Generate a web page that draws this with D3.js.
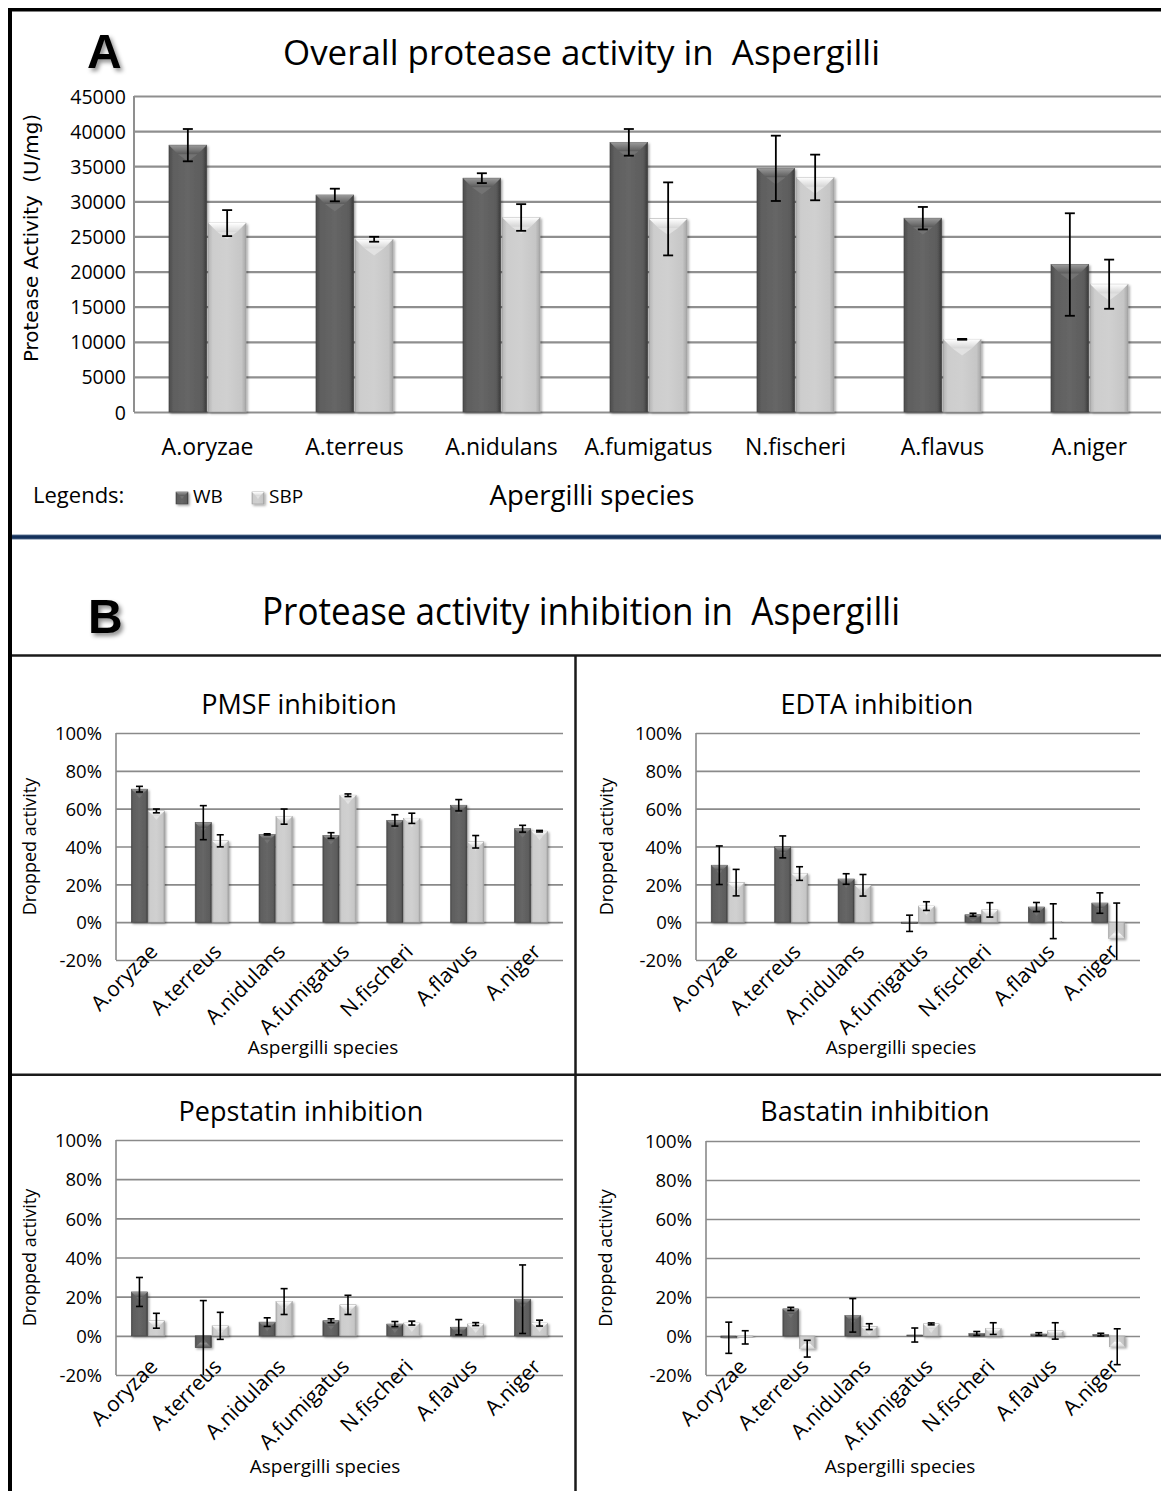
<!DOCTYPE html>
<html><head><meta charset="utf-8">
<script src="https://cdn.jsdelivr.net/npm/d3@7"></script>
<style>
body{margin:0;background:#fff}
svg{display:block}
text{font-family:"Open Sans",sans-serif;fill:#000}
</style>
</head><body>
<svg id="c" width="1161" height="1491"></svg>
<script>
// ---------------- DATA ----------------
const species = ["A.oryzae","A.terreus","A.nidulans","A.fumigatus","N.fischeri","A.flavus","A.niger"];
const seriesNames = ["WB","SBP"];

// Panel A: overall protease activity (U/mg)
const overallWB     = [38000, 30900, 33300, 38400, 34700, 27600, 21000];
const overallWBErr  = [2300, 900, 700, 1900, 4650, 1600, 7300];
const overallSBP    = [26900, 24600, 27700, 27500, 33400, 10350, 18200];
const overallSBPErr = [1850, 350, 1900, 5200, 3250, 60, 3500];
const yTicksA = [0,5000,10000,15000,20000,25000,30000,35000,40000,45000];

// Panel B: dropped activity (%)
const pmsfWB     = [70.3, 52.6, 46.4, 45.8, 53.8, 61.8, 49.4];
const pmsfWBErr  = [1.5, 9.0, 0.3, 1.5, 3.0, 3.0, 1.8];
const pmsfSBP    = [58.8, 43.0, 55.8, 67.1, 54.9, 42.5, 48.1];
const pmsfSBPErr = [1.0, 3.2, 4.0, 0.7, 2.7, 3.3, 0.4];

const edtaWB     = [30.1, 39.8, 22.8, -0.6, 3.9, 8.0, 10.1];
const edtaWBErr  = [10.2, 5.8, 2.8, 4.3, 0.8, 2.4, 5.4];
const edtaSBP    = [20.9, 25.7, 19.5, 8.5, 6.5, 0.5, -8.5];
const edtaSBPErr = [7.0, 3.6, 5.7, 2.3, 3.8, 9.2, 18.6];

const pepWB      = [22.4, -6.0, 7.0, 7.7, 6.0, 4.4, 18.7];
const pepWBErr   = [7.4, 24.0, 2.2, 1.0, 1.3, 3.9, 17.5];
const pepSBP     = [7.7, 5.1, 17.5, 15.8, 6.5, 6.0, 6.5];
const pepSBPErr  = [3.8, 6.9, 6.6, 4.9, 1.0, 0.75, 1.5];

const basWB      = [-0.9, 13.9, 10.6, 0.5, 1.3, 1.0, 0.7];
const basWBErr   = [8.0, 0.8, 8.6, 3.6, 1.0, 0.7, 0.7];
const basSBP     = [-0.7, -6.5, 4.8, 6.2, 3.8, 2.6, -5.5];
const basSBPErr  = [3.4, 4.3, 1.5, 0.5, 3.0, 4.2, 9.2];
const yTicksB = [-20, 0, 20, 40, 60, 80, 100];

const panelBTitles = ["PMSF inhibition","EDTA inhibition","Pepstatin inhibition","Bastatin inhibition"];
const panelBSeries = [
  [pmsfWB, pmsfWBErr, pmsfSBP, pmsfSBPErr],
  [edtaWB, edtaWBErr, edtaSBP, edtaSBPErr],
  [pepWB, pepWBErr, pepSBP, pepSBPErr],
  [basWB, basWBErr, basSBP, basSBPErr]
];

// ---------------- LAYOUT ----------------
const layoutB = [
  {x0:116, x1:563,  yTop:733,  yBot:960,  tx:299, ty:714,  lx:30,  xl:1054, xlx:323},
  {x0:696, x1:1140, yTop:733,  yBot:960,  tx:877, ty:714,  lx:607, xl:1054, xlx:901},
  {x0:116, x1:563,  yTop:1140, yBot:1375, tx:301, ty:1121, lx:30,  xl:1473, xlx:325},
  {x0:706, x1:1140, yTop:1141, yBot:1375, tx:875, ty:1121, lx:606, xl:1473, xlx:900}
];

const svg = d3.select("#c");
const defs = svg.append("defs");

function grad(id, stops, vertical){
  const g = defs.append("linearGradient").attr("id", id)
    .attr("x1",0).attr("y1",0).attr("x2", vertical?0:1).attr("y2", vertical?1:0);
  stops.forEach(s => g.append("stop").attr("offset", s[0]).attr("stop-color", s[1]));
}
grad("darkBody", [[0,"#4c4c4c"],[0.12,"#5f5f5f"],[0.5,"#666"],[0.88,"#5c5c5c"],[1,"#3a3a3a"]]);
grad("lightBody", [[0,"#b4b4b4"],[0.12,"#cdcdcd"],[0.5,"#d0d0d0"],[0.88,"#c6c6c6"],[1,"#a6a6a6"]]);
grad("darkBevel", [[0,"#9a9a9a"],[1,"#5a5a5a"]], true);
grad("lightBevel", [[0,"#ffffff"],[1,"#d6d6d6"]], true);
grad("blueLine", [[0,"#6a7f9c"],[0.3,"#13305a"],[0.7,"#13305a"],[1,"#5f7594"]], true);

const sh = defs.append("filter").attr("id","sh").attr("x","-20%").attr("y","-20%").attr("width","160%").attr("height","160%");
sh.append("feDropShadow").attr("dx",1.5).attr("dy",1.5).attr("stdDeviation",1.3).attr("flood-color","#000").attr("flood-opacity",0.35);
const tsh = defs.append("filter").attr("id","tsh").attr("x","-30%").attr("y","-30%").attr("width","180%").attr("height","180%");
tsh.append("feDropShadow").attr("dx",2.5).attr("dy",3).attr("stdDeviation",2).attr("flood-color","#000").attr("flood-opacity",0.45);

function drawBar(g, x, w, yv, y0, dark, bevel){
  const top = Math.min(yv, y0), h = Math.abs(yv - y0);
  if (h < 0.3) return;
  const bg = g.append("g").attr("filter","url(#sh)");
  bg.append("rect").attr("x",x).attr("y",top).attr("width",w).attr("height",h)
    .attr("fill", dark ? "url(#darkBody)" : "url(#lightBody)")
    .attr("stroke", dark ? "#444" : "#9c9c9c").attr("stroke-width",0.6);
  const b = Math.min(bevel, h/2, w/2);
  const up = yv <= y0;
  const e = up ? top : top + h;
  const s = up ? 1 : -1;
  const pts = [[x,e],[x+w,e],[x+w-b,e+s*b],[x+b,e+s*b]];
  bg.append("polygon").attr("points", pts.map(p=>p.join(",")).join(" "))
    .attr("fill", dark ? "url(#darkBevel)" : "url(#lightBevel)");
  const tri = [[x+b,e+s*b],[x+w-b,e+s*b],[x+w/2,e+s*Math.min(b*1.8,h)]];
  bg.append("polygon").attr("points", tri.map(p=>p.join(",")).join(" "))
    .attr("fill", dark ? "#777" : "#e6e6e6").attr("opacity",0.8);
}

function drawErr(g, cx, v, e, y, dom, cap, sw){
  const lo = Math.max(v - e, dom[0]), hi = Math.min(v + e, dom[1]);
  g.append("line").attr("x1",cx).attr("x2",cx).attr("y1",y(lo)).attr("y2",y(hi))
    .attr("stroke","#000").attr("stroke-width",sw);
  if (v + e <= dom[1]) g.append("line").attr("x1",cx-cap/2).attr("x2",cx+cap/2).attr("y1",y(hi)).attr("y2",y(hi)).attr("stroke","#000").attr("stroke-width",sw);
  if (v - e >= dom[0]) g.append("line").attr("x1",cx-cap/2).attr("x2",cx+cap/2).attr("y1",y(lo)).attr("y2",y(lo)).attr("stroke","#000").attr("stroke-width",sw);
}

// ---------------- FRAME ----------------
svg.append("rect").attr("x",8).attr("y",8).attr("width",1153).attr("height",3.5).attr("fill","#000");
svg.append("rect").attr("x",8).attr("y",8).attr("width",4).attr("height",1483).attr("fill","#000");
svg.append("rect").attr("x",12).attr("y",534.5).attr("width",1149).attr("height",5).attr("fill","url(#blueLine)");
svg.append("line").attr("x1",12).attr("x2",1161).attr("y1",655.5).attr("y2",655.5).attr("stroke","#1a1a1a").attr("stroke-width",2.5);
svg.append("line").attr("x1",12).attr("x2",1161).attr("y1",1074.7).attr("y2",1074.7).attr("stroke","#1a1a1a").attr("stroke-width",2.5);
svg.append("line").attr("x1",575.5).attr("x2",575.5).attr("y1",655).attr("y2",1491).attr("stroke","#1a1a1a").attr("stroke-width",2.5);

// ---------------- PANEL A ----------------
const gA = svg.append("g");
const xA = d3.scaleBand().domain(species).range([134, 1163]).paddingInner(0.476).paddingOuter(0.238);
const xAs = d3.scaleBand().domain(seriesNames).range([0, xA.bandwidth()]).paddingInner(0.04);
const domA = [0, 45000];
const yA = d3.scaleLinear().domain(domA).range([412, 96]);

const axA = gA.append("g").attr("transform","translate(134,0)")
  .call(d3.axisLeft(yA).tickValues(yTicksA).tickSize(-(1161-134)).tickPadding(8).tickFormat(d3.format("d")));
axA.select(".domain").remove();
axA.selectAll("line").attr("stroke","#8f8f8f").attr("stroke-width",2.2);
axA.selectAll("text").style("font-size","19.5px").attr("fill","#000").attr("dy","0.36em");
gA.append("line").attr("x1",134).attr("x2",134).attr("y1",96).attr("y2",412).attr("stroke","#8f8f8f").attr("stroke-width",2);

species.forEach((sp,i) => {
  const vals = [[overallWB[i], overallWBErr[i]], [overallSBP[i], overallSBPErr[i]]];
  vals.forEach((ve, k) => {
    const bx = xA(sp) + xAs(seriesNames[k]);
    drawBar(gA, bx, xAs.bandwidth(), yA(ve[0]), yA(0), k===0, 9);
  });
});
species.forEach((sp,i) => {
  const vals = [[overallWB[i], overallWBErr[i]], [overallSBP[i], overallSBPErr[i]]];
  vals.forEach((ve, k) => {
    const cx = xA(sp) + xAs(seriesNames[k]) + xAs.bandwidth()/2;
    drawErr(gA, cx, ve[0], ve[1], yA, domA, 10, 1.8);
  });
});
const axAx = gA.append("g").attr("transform","translate(0,412)")
  .call(d3.axisBottom(xA).tickSize(0));
axAx.select(".domain").remove();
axAx.selectAll("text").attr("y",43).attr("dy",0).style("font-size","23px").attr("fill","#000");

gA.append("text").attr("x",87).attr("y",68).text("A").style("font-size","48px").style("font-weight","700")
  .attr("filter","url(#tsh)").style("font-family","'Liberation Sans',sans-serif");
gA.append("text").attr("x",283).attr("y",65).text("Overall protease activity in  Aspergilli")
  .style("font-size","34px").style("white-space","pre").attr("textLength",597).attr("lengthAdjust","spacingAndGlyphs");
gA.append("text").attr("transform","translate(38,238) rotate(-90)").attr("text-anchor","middle")
  .text("Protease Activity  (U/mg)").style("font-family","'DejaVu Sans',sans-serif").style("font-size","19px")
  .style("white-space","pre").attr("textLength",248).attr("lengthAdjust","spacingAndGlyphs");
gA.append("text").attr("x",592).attr("y",505).attr("text-anchor","middle").text("Apergilli species").style("font-size","27.5px");
gA.append("text").attr("x",33).attr("y",503).text("Legends:").style("font-size","22px");
const legX = [176, 252];
seriesNames.forEach((s,k) => {
  drawBar(gA, legX[k], 12, 492, 504, k===0, 4);
  gA.append("text").attr("x", legX[k]+17).attr("y",503).text(s).style("font-size","19px");
});

// ---------------- PANEL B ----------------
svg.append("text").attr("x",88).attr("y",633).text("B").style("font-size","48px").style("font-weight","700")
  .attr("filter","url(#tsh)").style("font-family","'Liberation Sans',sans-serif");
svg.append("text").attr("x",262).attr("y",625).text("Protease activity inhibition in  Aspergilli")
  .style("font-size","38px").style("white-space","pre").attr("textLength",638).attr("lengthAdjust","spacingAndGlyphs");

const domB = [-20, 100];
layoutB.forEach((L, p) => {
  const g = svg.append("g");
  const [wb, wbE, sbp, sbpE] = panelBSeries[p];
  const x = d3.scaleBand().domain(species).range([L.x0, L.x1]).paddingInner(0.48).paddingOuter(0.24);
  const xs = d3.scaleBand().domain(seriesNames).range([0, x.bandwidth()]).paddingInner(0.04);
  const y = d3.scaleLinear().domain(domB).range([L.yBot, L.yTop]);

  const ay = g.append("g").attr("transform",`translate(${L.x0},0)`)
    .call(d3.axisLeft(y).tickValues(yTicksB).tickSize(-(L.x1-L.x0)).tickPadding(14).tickFormat(d => d + "%"));
  ay.select(".domain").remove();
  ay.selectAll("line").attr("stroke","#8a8a8a").attr("stroke-width",1.6);
  ay.selectAll("text").style("font-size","18.5px").attr("fill","#000").attr("dy","0.36em");
  g.append("line").attr("x1",L.x0).attr("x2",L.x0).attr("y1",L.yTop).attr("y2",L.yBot).attr("stroke","#8a8a8a").attr("stroke-width",1.6);

  species.forEach((sp,i) => {
    [[wb[i],wbE[i]],[sbp[i],sbpE[i]]].forEach((ve,k) => {
      drawBar(g, x(sp)+xs(seriesNames[k]), xs.bandwidth(), y(ve[0]), y(0), k===0, 5);
    });
  });
  species.forEach((sp,i) => {
    [[wb[i],wbE[i]],[sbp[i],sbpE[i]]].forEach((ve,k) => {
      drawErr(g, x(sp)+xs(seriesNames[k])+xs.bandwidth()/2, ve[0], ve[1], y, domB, 7, 1.6);
    });
  });

  const ax = g.append("g").attr("transform",`translate(0,${L.yBot})`).call(d3.axisBottom(x).tickSize(0));
  ax.select(".domain").remove();
  ax.selectAll("text").attr("x",0).attr("y",0).attr("dy",0).attr("text-anchor","end")
    .attr("transform","translate(11,-7) rotate(-45)").style("font-size","21px").attr("fill","#000");

  g.append("text").attr("x",L.tx).attr("y",L.ty).attr("text-anchor","middle").text(panelBTitles[p]).style("font-size","27px");
  g.append("text").attr("transform",`translate(${L.lx+6},${(L.yTop+L.yBot)/2}) rotate(-90)`).attr("text-anchor","middle")
    .text("Dropped activity").style("font-size","18px");
  g.append("text").attr("x",L.xlx).attr("y",L.xl).attr("text-anchor","middle").text("Aspergilli species").style("font-size","19px");
});
</script>
</body></html>
